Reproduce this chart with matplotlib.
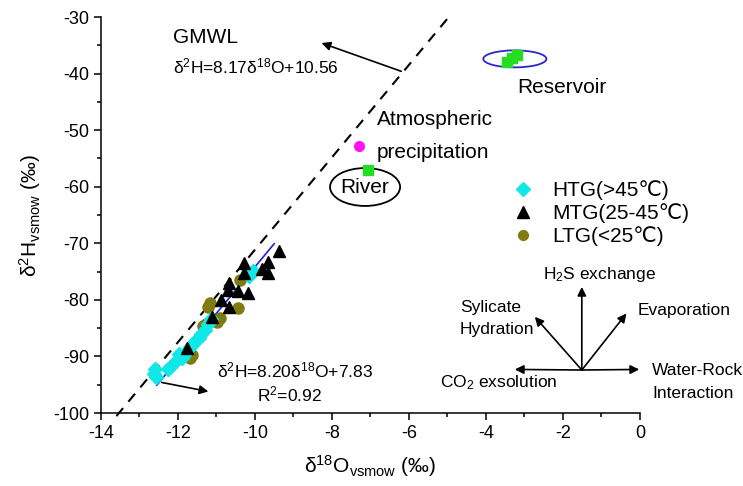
import matplotlib
matplotlib.use("Agg")
import matplotlib.pyplot as plt
from matplotlib.patches import Ellipse
from matplotlib.lines import Line2D
import numpy as np

plt.rcParams['font.family'] = ['Liberation Sans', 'DejaVu Sans']
plt.rcParams['mathtext.fontset'] = 'custom'
plt.rcParams['mathtext.rm'] = 'Liberation Sans'
plt.rcParams['mathtext.it'] = 'Liberation Sans:italic'
plt.rcParams['mathtext.bf'] = 'Liberation Sans:bold'
plt.rcParams['axes.unicode_minus'] = False

# ---- data ----
htg_x = [-10.15, -10.05, -11.15, -11.22, -11.30, -11.40, -11.45, -11.55, -11.62, -11.70,
         -11.78, -11.85, -11.90, -11.98, -12.05, -12.20, -12.25, -12.60, -12.63, -12.58]
htg_y = [-75.8, -74.9, -83.4, -84.2, -85.3, -86.0, -86.8, -87.3, -87.8, -88.4,
         -89.2, -89.7, -90.3, -89.5, -90.8, -91.8, -92.3, -92.3, -93.1, -93.6]

mtg_x = [-9.38, -10.28, -9.65, -9.83, -9.65, -10.28, -10.67, -10.69, -10.45, -10.17,
         -10.87, -10.67, -11.12, -11.77]
mtg_y = [-71.3, -73.5, -73.3, -74.6, -75.2, -75.2, -77.0, -78.3, -78.4, -78.8,
         -80.1, -81.2, -83.1, -88.5]

ltg_x = [-10.40, -10.43, -11.17, -11.22, -10.91, -10.98, -11.34, -11.28, -11.64, -11.70]
ltg_y = [-76.5, -81.5, -80.6, -81.3, -83.2, -83.9, -84.7, -84.2, -89.8, -90.3]

reservoir_x = [-3.46, -3.33, -3.20]
reservoir_y = [-37.9, -37.3, -36.7]
river_x = [-7.07]
river_y = [-57.0]
precip_x = [-7.29]
precip_y = [-52.8]

gmwl_slope, gmwl_icpt = 8.17, 10.56
fit_slope, fit_icpt = 8.20, 7.83
gmwl_xrange = [-13.6, -4.9]
fit_xrange = [-12.55, -9.5]

legend_labels = ['HTG(>45℃)', 'MTG(25-45℃)', 'LTG(<25℃)']

# ---- figure ----
fig = plt.figure(figsize=(7.43, 4.86), dpi=100)
ax = fig.add_axes([0.1359, 0.1502, 0.7254, 0.8148])
ax.set_xlim(-14, 0)
ax.set_ylim(-100, -30)
for s in ['top', 'right']:
    ax.spines[s].set_visible(False)
for s in ['left', 'bottom']:
    ax.spines[s].set_linewidth(1.1)
ax.set_xticks(np.arange(-14, 1, 2))
ax.set_yticks(np.arange(-100, -29, 10))
ax.set_xticks(np.arange(-13, 0, 2), minor=True)
ax.set_yticks(np.arange(-95, -30, 10), minor=True)
ax.tick_params(which='major', direction='out', length=5, width=1.1, labelsize=13)
ax.tick_params(which='minor', direction='out', length=3, width=1.1)

# lines
gx = np.array(gmwl_xrange)
ax.plot(gx, gmwl_slope * gx + gmwl_icpt, ls=(0, (5, 4)), color='black', lw=1.5, clip_on=False)
fx = np.array(fit_xrange)
ax.plot(fx, fit_slope * fx + fit_icpt, color='#2020dd', lw=1.2)

# points
ax.plot(ltg_x, ltg_y, 'o', color='#807a10', ms=8, ls='none')
ax.plot(htg_x, htg_y, 'D', color='#10e8e8', ms=7, ls='none')
ax.plot(mtg_x, mtg_y, '^', color='black', ms=8.5, ls='none')
ax.plot(reservoir_x, reservoir_y, 's', color='#22dd22', ms=7, ls='none')
ax.plot(river_x, river_y, 's', color='#22dd22', ms=7, ls='none')
ax.plot(precip_x, precip_y, 'o', color='#ff10ff', ms=7, ls='none')

# ellipses
ax.add_patch(Ellipse((-3.25, -37.4), 1.64, 3.0, fill=False, edgecolor='#2828c8', lw=1.3))
ax.add_patch(Ellipse((-7.14, -60.05), 1.82, 6.7, fill=False, edgecolor='black', lw=1.3))

# texts
big = 15
small = 12.5
ax.text(-12.13, -33.7, 'GMWL', fontsize=big, va='center', ha='left')
ax.text(-12.13, -38.8, r'δ$^{\mathrm{2}}$H=8.17δ$^{\mathrm{18}}$O+10.56', fontsize=small, va='center', ha='left')
ax.text(-3.19, -42.4, 'Reservoir', fontsize=big, va='center', ha='left')
ax.text(-6.84, -48.2, 'Atmospheric', fontsize=big, va='center', ha='left')
ax.text(-6.84, -54.0, 'precipitation', fontsize=big, va='center', ha='left')
ax.text(-7.14, -60.2, 'River', fontsize=big, va='center', ha='center')
ax.text(-10.99, -92.4, r'δ$^{\mathrm{2}}$H=8.20δ$^{\mathrm{18}}$O+7.83', fontsize=small, va='center', ha='left')
ax.text(-9.95, -96.8, r'R$^{\mathrm{2}}$=0.92', fontsize=small, va='center', ha='left')

arrow = dict(arrowstyle='-|>', color='black', lw=1.2, mutation_scale=13, shrinkA=0, shrinkB=0)
ax.annotate('', xy=(-8.27, -34.6), xytext=(-6.2, -39.6), arrowprops=arrow)
ax.annotate('', xy=(-11.21, -96.2), xytext=(-12.42, -94.6), arrowprops=arrow)

# process arrows
ox, oy = -1.51, -92.4
ax.annotate('', xy=(-1.51, -77.7), xytext=(ox, oy), arrowprops=arrow, annotation_clip=False)
ax.annotate('', xy=(-0.35, -82.4), xytext=(ox, oy), arrowprops=arrow, annotation_clip=False)
ax.annotate('', xy=(-2.73, -83.0), xytext=(ox, oy), arrowprops=arrow, annotation_clip=False)
ax.annotate('', xy=(-3.25, -92.3), xytext=(ox, oy), arrowprops=arrow, annotation_clip=False)
ax.annotate('', xy=(-0.02, -92.3), xytext=(ox, oy), arrowprops=arrow, annotation_clip=False)
ax.text(-1.04, -75.6, r'H$_{\mathrm{2}}$S exchange', fontsize=small, ha='center', va='center')
ax.text(-4.68, -81.3, 'Sylicate', fontsize=small, ha='left', va='center')
ax.text(-4.68, -85.2, 'Hydration', fontsize=small, ha='left', va='center')
ax.text(-0.05, -81.8, 'Evaporation', fontsize=small, ha='left', va='center')
ax.text(-5.19, -94.7, r'CO$_{\mathrm{2}}$ exsolution', fontsize=small, ha='left', va='center')
ax.text(0.31, -92.4, 'Water-Rock', fontsize=small, ha='left', va='center')
ax.text(0.31, -96.5, 'Interaction', fontsize=small, ha='left', va='center')

# legend
handles = [Line2D([], [], marker='D', color='#10e8e8', ls='none', ms=7),
           Line2D([], [], marker='^', color='black', ls='none', ms=8.5),
           Line2D([], [], marker='o', color='#807a10', ls='none', ms=7)]
ax.legend(handles, legend_labels, loc='upper left', bbox_to_anchor=(0.764, 0.588),
          frameon=False, fontsize=big, handlelength=1.0, handletextpad=0.9,
          labelspacing=0.15, borderpad=0, borderaxespad=0)

# axis labels
fig.text(370 / 743, 1 - 466 / 486, r'δ$^{\mathrm{18}}$O$_{\mathrm{vsmow}}$ (‰)', fontsize=big,
         ha='center', va='center')
fig.text(30 / 743, 1 - 215 / 486, r'δ$^{\mathrm{2}}$H$_{\mathrm{vsmow}}$ (‰)', fontsize=big,
         ha='center', va='center', rotation=90)

fig.savefig('out.png', dpi=100)
